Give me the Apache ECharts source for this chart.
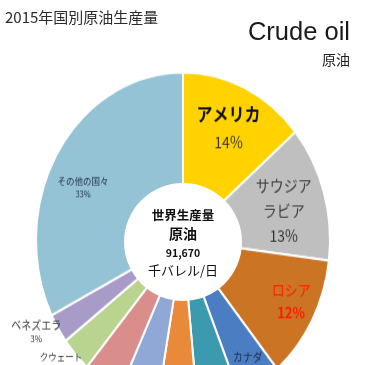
<!DOCTYPE html>
<html><head><meta charset="utf-8">
<script src="https://cdn.jsdelivr.net/npm/echarts@6/dist/echarts.min.js"></script>
<style>
html,body{margin:0;padding:0;background:#fff;}
#wrap{position:relative;width:370px;height:365px;overflow:hidden;background:#fff;}
#pie{position:absolute;left:0;top:0;width:370px;height:320px;transform:scaleY(1.1406);transform-origin:0 0;}
#overlay{position:absolute;left:0;top:0;width:370px;height:365px;pointer-events:none;}
</style></head>
<body>
<div id="wrap"><div id="pie"></div><div id="overlay"></div></div>
<script>
// Data (thousand barrels / day, 2015)
const categories = ['アメリカ','サウジアラビア','ロシア','カナダ','中国','イラク','イラン','アラブ首長国連邦','クウェート','ベネズエラ','その他の国々'];
const values = [12704, 12014, 10980, 4385, 4309, 4031, 3920, 3902, 3096, 2626, 29703];
const labelTexts = ['アメリカ', 'サウジア\nラビア', 'ロシア', 'カナダ', '', '', '', '', 'クウェート', 'ベネズエラ', 'その他の国々'];
const pctTexts = ['14%', '13%', '12%', '', '', '', '', '', '', '3%', '33%'];
const worldTotal = '91,670';

const colors = ['#FFD200','#BFBFBF','#CB7524','#4A7DC2','#3C9AAE','#E9893A','#8FA8D6','#DA8E8B','#B9D48E','#A89BC8','#93C3D4'];
const FF = '"Noto Sans CJK JP","Noto Sans",sans-serif';

const labelStyles = [
  {name:{fontSize:16,fontWeight:'bold',color:'#111',lineHeight:25}, pct:{fontSize:14,color:'#3d3a20',lineHeight:24}},
  {name:{fontSize:14,color:'#404040',lineHeight:22}, pct:{fontSize:14,color:'#333',lineHeight:22}},
  {name:{fontSize:13,color:'#FF1A00',lineHeight:20}, pct:{fontSize:13,fontWeight:'bold',color:'#FF1A00',lineHeight:20}},
  {name:{fontSize:10,color:'#1f2d4d',lineHeight:14}, pct:{fontSize:10,color:'#1f2d4d'}},
  null,null,null,null,
  {name:{fontSize:8.5,color:'#333',lineHeight:12}, pct:{fontSize:8,color:'#333'}},
  {name:{fontSize:10,color:'#333',lineHeight:12,align:'center'}, pct:{fontSize:8,color:'#333',lineHeight:11,align:'center'}},
  {name:{fontSize:8.5,color:'#1f3048',lineHeight:13}, pct:{fontSize:7.5,color:'#1f3048',lineHeight:11}}
];
// label nudges (styling only)
const labelNudge = [[-4,8],[-12,8],[5,-3],[4,2],null,null,null,null,[16,-2],[6,0],[0,15]];
const outsideIdx = [8, 9];

const baseData = categories.map((c,i)=>({name:c, value:values[i], itemStyle:{color:colors[i]}}));
const labelData = categories.map((c,i)=>{
  const st = labelStyles[i];
  const d = {name:c, value:values[i]};
  if(!st){ d.label = {show:false}; return d; }
  const txt = labelTexts[i].split('\n').map(s=>'{n|'+s+'}').join('\n') + (pctTexts[i] ? '\n{p|'+pctTexts[i]+'}' : '');
  d.label = {show:true, formatter: txt, rich:{n:st.name, p:st.pct}, fontFamily:FF, align:'center', overflow:'none'};
  if(outsideIdx.includes(i)){ d.label.position='outside'; d.label.edgeDistance=0; d.labelLine={show:false,length:6,length2:0}; }
  return d;
});

const pieChart = echarts.init(document.getElementById('pie'), null, {renderer:'canvas'});
pieChart.setOption({
  animation:false,
  series:[
    {type:'pie', center:[183,210.5], radius:[35,147], startAngle:90, clockwise:true,
     label:{show:false}, labelLine:{show:false}, silent:true,
     itemStyle:{borderColor:'#fff', borderWidth:2}, data: baseData},
    {type:'pie', center:[183,210.5], radius:[82,147], startAngle:90, clockwise:true, silent:true,
     itemStyle:{color:'rgba(0,0,0,0)', borderWidth:0},
     label:{position:'inside', fontFamily:FF, overflow:'none', edgeDistance:0}, labelLine:{show:false},
     labelLayout: function(p){ const n = labelNudge[p.dataIndex]; return n ? {dx:n[0], dy:n[1]} : {}; },
     data: labelData}
  ]
});

const overlayChart = echarts.init(document.getElementById('overlay'), null, {renderer:'canvas'});
overlayChart.setOption({
  animation:false,
  graphic:[
    {type:'circle', shape:{cx:183, cy:242, r:59}, style:{fill:'#fff'}},
    {type:'text', left:5, top:10, style:{text:'2015年国別原油生産量', font:'15px '+FF, fill:'#2a2a2a'}},
    {type:'text', right:20, top:20, style:{text:'Crude oil', font:'25.5px "Liberation Sans",sans-serif', fill:'#1a1a1a'}},
    {type:'text', right:20, top:53, style:{text:'原油', font:'14px '+FF, fill:'#222'}},
    {type:'text', x:183, y:215, style:{text:'世界生産量', font:'bold 12.5px '+FF, fill:'#111', align:'center', verticalAlign:'middle'}},
    {type:'text', x:183, y:234, style:{text:'原油', font:'bold 14px '+FF, fill:'#111', align:'center', verticalAlign:'middle'}},
    {type:'text', x:183, y:253, style:{text:worldTotal, font:'bold 10.5px '+FF, fill:'#111', align:'center', verticalAlign:'middle'}},
    {type:'text', x:183, y:270, style:{text:'千バレル/日', font:'13px '+FF, fill:'#111', align:'center', verticalAlign:'middle'}}
  ]
});
</script>
</body></html>
